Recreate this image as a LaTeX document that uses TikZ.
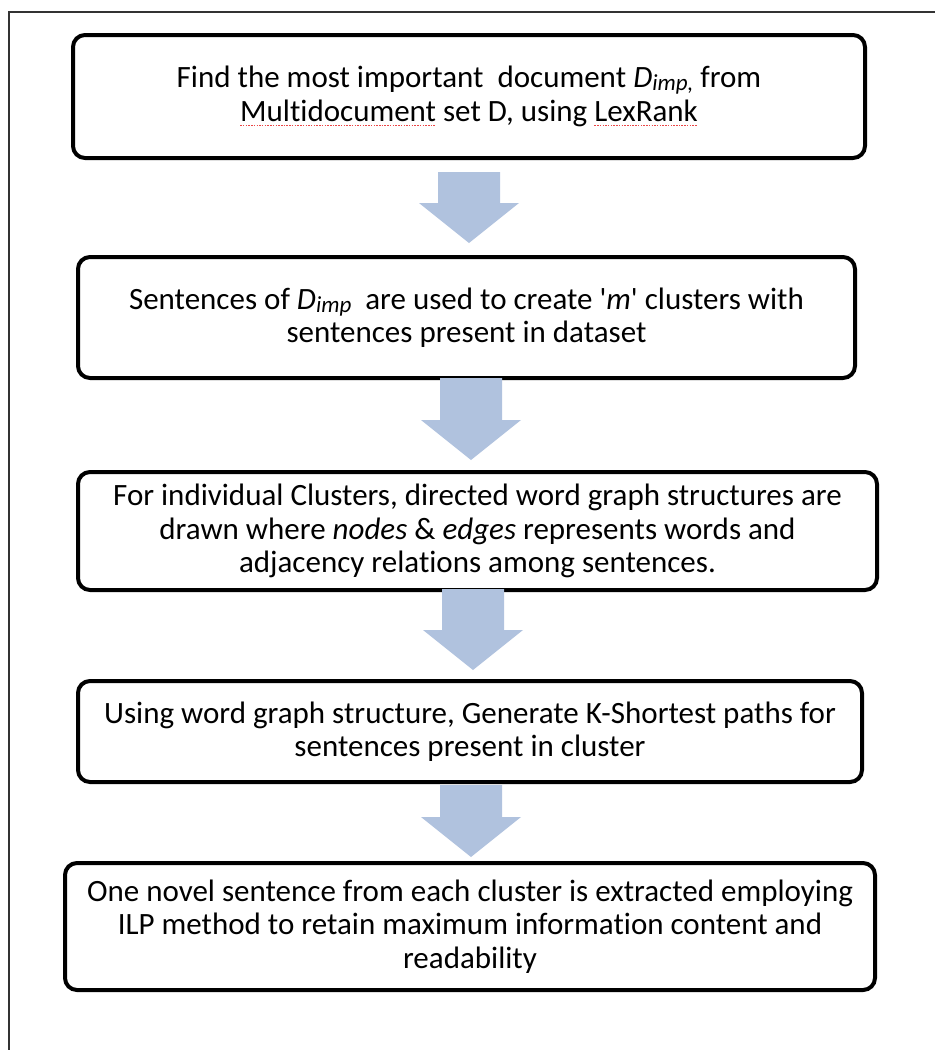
\documentclass[tikz,border=0pt]{standalone}
\usepackage{fontspec}
\setmainfont{Carlito}[Ligatures=NoCommon]
\newfontfamily\rawfont{Carlito}[Ligatures=TeXOff]
\usetikzlibrary{calc}

\definecolor{flowblue}{RGB}{176,194,222}
\definecolor{spellred}{RGB}{235,70,70}

% red dotted spell-check underline
\newcommand\spellmark[1]{\setbox0\hbox{#1}%
  \rlap{\raisebox{-4.5pt}{\hbox to \wd0{\color{spellred}\xleaders\hbox{\rule{1.5pt}{1.2pt}\kern1.2pt}\hfill}}}#1}
% D with a small italic "imp" index
\newcommand\Dimp[1]{\textit{D}\raisebox{-3pt}{\fontsize{23}{23}\selectfont\itshape imp#1}}
% straight apostrophe
\newcommand\squote{{\rawfont\char39}}

\tikzset{
  stepbox/.style={draw=black, line width=4pt, rounded corners=12pt, fill=white,
    align=center, inner sep=0pt, font=\fontsize{31}{33.5}\selectfont},
  arrowfill/.style={fill=flowblue, draw=none}
}

% block arrow from #1 (top of shaft) down to #2 (tip)
\newcommand\flowarrow[2]{%
  \fill[arrowfill] let \p1=(#1), \p2=(#2) in
    (\x1-31pt,\y1) -- (\x1+31pt,\y1) -- (\x1+31pt,\y2+40pt) -- (\x1+50pt,\y2+40pt)
    -- (\x1,\y2) -- (\x1-50pt,\y2+40pt) -- (\x1-31pt,\y2+40pt) -- cycle;}

\begin{document}
\begin{tikzpicture}[x=1pt,y=-1pt]
\useasboundingbox (0,0) rectangle (935,1050);

% page frame
\draw[line width=1.4pt, black!80] (9,1050) -- (9,12) -- (935,12);

% process steps
\node[stepbox, minimum width=792pt, minimum height=123pt] (b1) at (469,96.5)
  {Find the most important\ \ document \Dimp{,} from\\
   \spellmark{Multidocument} set D, using \spellmark{LexRank}};

\node[stepbox, minimum width=777pt, minimum height=121pt] (b2) at (466.5,317.5)
  {Sentences of \Dimp{}\ \ are used to create \squote\textit{m}\squote\ clusters with\\
   sentences present in dataset};

\node[stepbox, minimum width=799pt, minimum height=118pt] (b3) at (477.5,531)
  {For individual Clusters, directed word graph structures are\\
   drawn where \textit{nodes} \& \textit{edges} represents words and\\
   adjacency relations among sentences.};

\node[stepbox, minimum width=784pt, minimum height=101pt] (b4) at (470,731.5)
  {Using word graph structure, Generate K-Shortest paths for\\
   sentences present in cluster};

\node[stepbox, minimum width=810pt, minimum height=127pt] (b5) at (470,926.5)
  {One novel sentence from each cluster is extracted employing\\
   ILP method to retain maximum information content and\\
   readability};

% arrow end points
\coordinate (a1top) at ($(b1.south)+(0,12)$);
\coordinate (a1tip) at ($(b2.north)+(2.5,-12)$);
\coordinate (a2top) at ($(b2.south)+(4.5,-2)$);
\coordinate (a2tip) at ($(b3.north)+(-6.5,-10)$);
\coordinate (a3top) at ($(b3.south)+(-4.5,-3)$);
\coordinate (a3tip) at ($(b4.north)+(3,-9)$);
\coordinate (a4top) at ($(b4.south)+(1,1)$);
\coordinate (a4tip) at ($(b5.north)+(1,-4)$);

\flowarrow{a1top}{a1tip}
\flowarrow{a2top}{a2tip}
\flowarrow{a3top}{a3tip}
\flowarrow{a4top}{a4tip}
\end{tikzpicture}
\end{document}
